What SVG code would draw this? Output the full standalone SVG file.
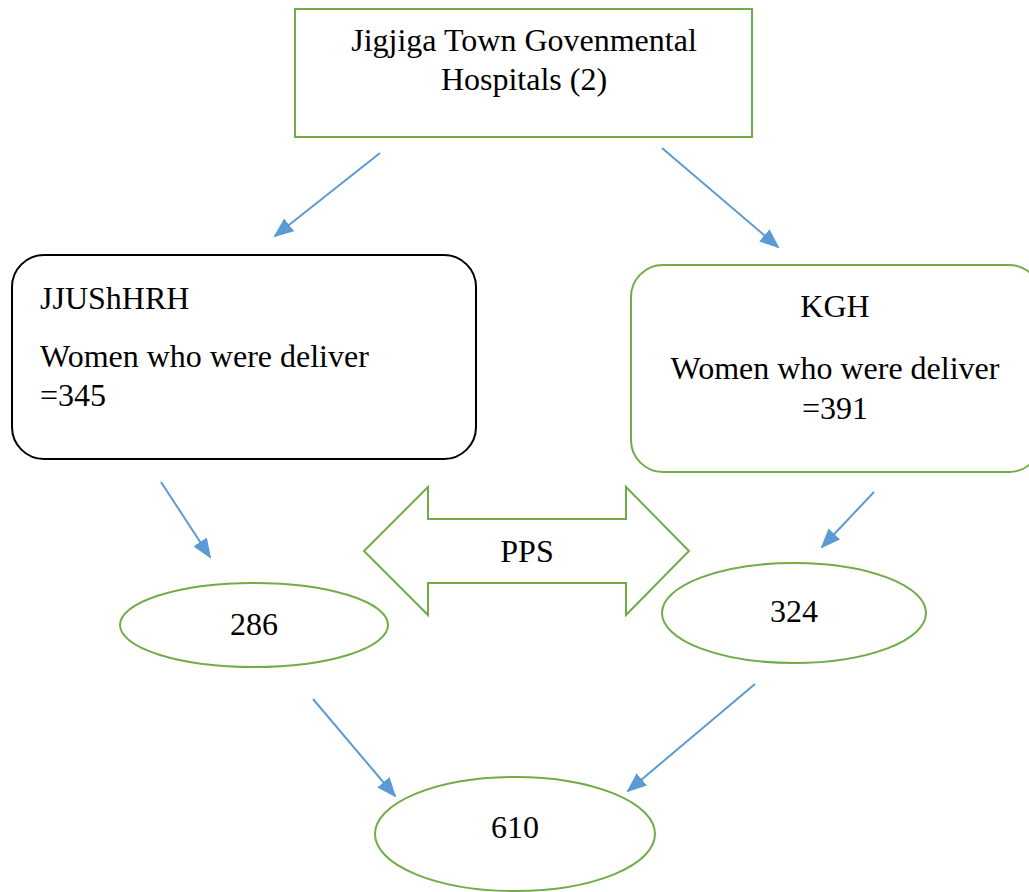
<svg xmlns="http://www.w3.org/2000/svg" width="1029" height="892" viewBox="0 0 1029 892">
<style>
.t{font-family:"Liberation Serif","Times New Roman",serif;font-size:32px;fill:#000}
.g{fill:#fff;stroke:#70AD47;stroke-width:2}
.c{stroke:#5B9BD5;stroke-width:2;fill:none;marker-end:url(#ah)}
</style>
<defs>
<marker id="ah" viewBox="0 0 20 16" refX="18" refY="8" markerWidth="20" markerHeight="16" markerUnits="userSpaceOnUse" orient="auto">
<path d="M0,0 L20,8 L0,16 z" fill="#5B9BD5"/>
</marker>
</defs>
<rect width="1029" height="892" fill="#fff"/>
<g id="top">
<rect class="g" x="295" y="9" width="457" height="128"/>
<text class="t" x="524" y="51" text-anchor="middle">Jigjiga Town Govenmental</text>
<text class="t" x="524" y="90" text-anchor="middle">Hospitals (2)</text>
</g>
<g id="jjushhrh">
<rect x="12" y="255" width="464" height="204" rx="32" fill="#fff" stroke="#000" stroke-width="2"/>
<text class="t" x="40" y="309">JJUShHRH</text>
<text class="t" x="40" y="367">Women who were deliver</text>
<text class="t" x="40" y="406">=345</text>
</g>
<g id="kgh">
<rect class="g" x="631" y="265" width="410" height="207" rx="32"/>
<text class="t" x="835" y="317" text-anchor="middle">KGH</text>
<text class="t" x="835" y="379" text-anchor="middle">Women who were deliver</text>
<text class="t" x="835" y="419" text-anchor="middle">=391</text>
</g>
<g id="pps">
<polygon class="g" points="364,551 428,487 428,519 626,519 626,487 689,551 626,615 626,583 428,583 428,615"/>
<text class="t" x="527" y="562" text-anchor="middle">PPS</text>
</g>
<g id="n286">
<ellipse class="g" cx="254" cy="625" rx="134" ry="42"/>
<text class="t" x="254" y="635" text-anchor="middle">286</text>
</g>
<g id="n324">
<ellipse class="g" cx="794" cy="613" rx="132" ry="50"/>
<text class="t" x="794" y="622" text-anchor="middle">324</text>
</g>
<g id="n610">
<ellipse class="g" cx="515" cy="834" rx="140" ry="57"/>
<text class="t" x="515" y="838" text-anchor="middle">610</text>
</g>
<g id="connectors">
<line class="c" x1="380" y1="153" x2="275" y2="236"/>
<line class="c" x1="662" y1="148" x2="778" y2="247"/>
<line class="c" x1="161" y1="482" x2="210" y2="557"/>
<line class="c" x1="874" y1="492" x2="822" y2="547"/>
<line class="c" x1="313" y1="699" x2="395" y2="796"/>
<line class="c" x1="755" y1="684" x2="628" y2="791"/>
</g>
</svg>
